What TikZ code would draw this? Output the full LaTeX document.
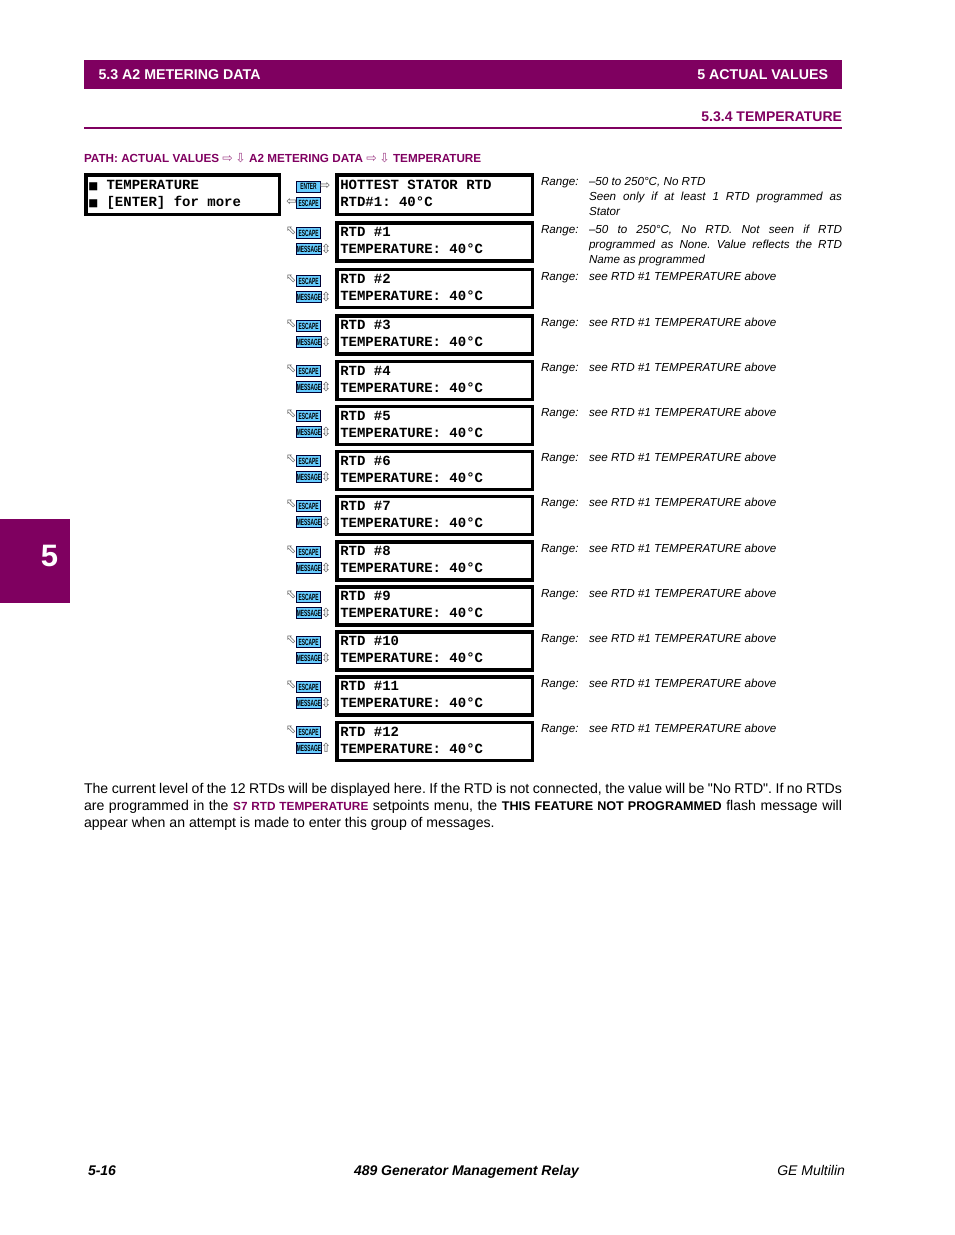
\documentclass[tikz,border=0pt]{standalone}
\usepackage{fontspec}
\setmainfont{Liberation Sans}
\setmonofont{Liberation Mono}
\newfontfamily\keyfont[FakeStretch=0.54]{Liberation Sans}
\newfontfamily\arrowfont{DejaVu Sans}
\newfontfamily\plainfont{Liberation Sans}
\definecolor{gepurple}{HTML}{7F0060}
\definecolor{keyblue}{HTML}{66CCFF}
\tikzset{
  every node/.style={inner sep=0pt, outer sep=0pt},
  bartext/.style={text=white, font=\fontsize{14.2}{16}\selectfont\bfseries},
  lcd/.style={draw, line width=3.5pt, minimum width=195.5pt, minimum height=38pt, inner xsep=3.5pt, text width=188.5pt, align=flush left, text depth=20pt,
    font=\fontsize{14}{17.3}\selectfont\ttfamily\bfseries},
  keybox/.style={draw=black!80!blue, fill=keyblue, line width=1pt, minimum height=11pt, font=\fontsize{9}{9}\selectfont\keyfont\bfseries},
  esc/.style={keybox, minimum width=23.5pt},
  msg/.style={keybox, minimum width=24.5pt},
  arr/.style={text=black!65, font=\fontsize{12.5}{12.5}\selectfont\arrowfont},
  rangelab/.style={anchor=west, font=\fontsize{11.65}{15}\selectfont\itshape},
  rangeval/.style={anchor=north west, text width=253pt, align=justify, font=\fontsize{11.65}{15}\selectfont\itshape\frenchspacing},
  foot/.style={anchor=base west, font=\fontsize{14}{16}\selectfont\bfseries\itshape}
}
\begin{document}
\begin{tikzpicture}[x=1pt,y=-1pt]
  \useasboundingbox (0,0) rectangle (954,1235);
  % page furniture
  \fill[gepurple] (84,60) rectangle (842,89);
  \fill[gepurple] (0,519) rectangle (70,603);
  \draw[gepurple, line width=1.5pt] (84,128) -- (842,128);
  \node[bartext, anchor=west] (sect) at (98.5,75) {5.3 A2 METERING DATA};
  \node[bartext, anchor=east] (chap) at (828,75) {5 ACTUAL VALUES};
  \node[anchor=east, text=gepurple, font=\fontsize{14}{16}\selectfont\bfseries] (title) at (842,117) {5.3.4 TEMPERATURE};
  \node[text=white, font=\fontsize{31}{33}\selectfont\bfseries] (tabnum) at (49.5,556) {5};
  \node[anchor=west, text=gepurple, font=\fontsize{11.7}{14}\selectfont\bfseries] (path) at (84,158) {PATH: ACTUAL VALUES {\arrowfont\mdseries\fontsize{12.5}{14}\selectfont\color{gepurple!75}⇨\hspace{2.5pt}⇩} A2 METERING DATA {\arrowfont\mdseries\fontsize{12.5}{14}\selectfont\color{gepurple!75}⇨\hspace{2.5pt}⇩} TEMPERATURE};
  % first row
  \node[lcd, minimum width=193.5pt, minimum height=39.5pt, inner xsep=2.5pt, text width=188.5pt] (menu) at (182.5,194.5) {{\arrowfont\fontsize{10.5}{10}\selectfont ■} TEMPERATURE\\{\arrowfont\fontsize{10.5}{10}\selectfont ■} [ENTER] for more};
  \node[esc] (enter) at (308.5,186.5) {ENTER};
  \node[arr] (enterarr) at (325,186) {⇨};
  \node[esc, minimum width=24.5pt] (escape) at (308.5,203) {ESCAPE};
  \node[arr] (escarr) at (291.5,202) {⇦};
  \node[lcd, minimum height=39.5pt] (hot) at (434.5,194.5) {HOTTEST STATOR RTD\\RTD\#1: 40°C};
  \node[rangelab] (lab0) at (541,182.5) {Range:};
  \node[rangeval] (val0) at (589,177) {–50 to 250°C, No RTD\\Seen only if at least 1 RTD programmed as\linebreak Stator};
  % RTD rows
  \node[arr] (up1) at (291,231) {⬁};
  \node[esc] (esc1) at (308.7,233) {ESCAPE};
  \node[msg] (msg1) at (309,249) {MESSAGE};
  \node[arr] (ud1) at (326,249) {⇳};
  \node[lcd] (rtd1) at (434.5,242) {RTD \#1\\TEMPERATURE: 40°C};
  \node[rangelab] (lab1) at (541,230.5) {Range:};
  \node[rangeval] (val1) at (589,225) {–50 to 250°C, No RTD. Not seen if RTD\linebreak programmed as None. Value reflects the RTD\linebreak Name as programmed};
  \node[arr] (up2) at (291,279) {⬁};
  \node[esc] (esc2) at (308.7,281) {ESCAPE};
  \node[msg] (msg2) at (309,297) {MESSAGE};
  \node[arr] (ud2) at (326,297) {⇳};
  \node[lcd] (rtd2) at (434.5,288.5) {RTD \#2\\TEMPERATURE: 40°C};
  \node[rangelab] (lab2) at (541,277.5) {Range:};
  \node[rangeval] (val2) at (589,272) {see RTD \#1 TEMPERATURE above};
  \node[arr] (up3) at (291,324) {⬁};
  \node[esc] (esc3) at (308.7,326) {ESCAPE};
  \node[msg] (msg3) at (309,342) {MESSAGE};
  \node[arr] (ud3) at (326,342) {⇳};
  \node[lcd] (rtd3) at (434.5,335) {RTD \#3\\TEMPERATURE: 40°C};
  \node[rangelab] (lab3) at (541,323.5) {Range:};
  \node[rangeval] (val3) at (589,318) {see RTD \#1 TEMPERATURE above};
  \node[arr] (up4) at (291,369) {⬁};
  \node[esc] (esc4) at (308.7,371) {ESCAPE};
  \node[msg] (msg4) at (309,387) {MESSAGE};
  \node[arr] (ud4) at (326,387) {⇳};
  \node[lcd] (rtd4) at (434.5,380.5) {RTD \#4\\TEMPERATURE: 40°C};
  \node[rangelab] (lab4) at (541,368.5) {Range:};
  \node[rangeval] (val4) at (589,363) {see RTD \#1 TEMPERATURE above};
  \node[arr] (up5) at (291,414) {⬁};
  \node[esc] (esc5) at (308.7,416) {ESCAPE};
  \node[msg] (msg5) at (309,432) {MESSAGE};
  \node[arr] (ud5) at (326,432) {⇳};
  \node[lcd] (rtd5) at (434.5,425.5) {RTD \#5\\TEMPERATURE: 40°C};
  \node[rangelab] (lab5) at (541,413.5) {Range:};
  \node[rangeval] (val5) at (589,408) {see RTD \#1 TEMPERATURE above};
  \node[arr] (up6) at (291,459) {⬁};
  \node[esc] (esc6) at (308.7,461) {ESCAPE};
  \node[msg] (msg6) at (309,477) {MESSAGE};
  \node[arr] (ud6) at (326,477) {⇳};
  \node[lcd] (rtd6) at (434.5,470.5) {RTD \#6\\TEMPERATURE: 40°C};
  \node[rangelab] (lab6) at (541,458.5) {Range:};
  \node[rangeval] (val6) at (589,453) {see RTD \#1 TEMPERATURE above};
  \node[arr] (up7) at (291,504) {⬁};
  \node[esc] (esc7) at (308.7,506) {ESCAPE};
  \node[msg] (msg7) at (309,522) {MESSAGE};
  \node[arr] (ud7) at (326,522) {⇳};
  \node[lcd] (rtd7) at (434.5,515.5) {RTD \#7\\TEMPERATURE: 40°C};
  \node[rangelab] (lab7) at (541,503.5) {Range:};
  \node[rangeval] (val7) at (589,498) {see RTD \#1 TEMPERATURE above};
  \node[arr] (up8) at (291,550) {⬁};
  \node[esc] (esc8) at (308.7,552) {ESCAPE};
  \node[msg] (msg8) at (309,568) {MESSAGE};
  \node[arr] (ud8) at (326,568) {⇳};
  \node[lcd] (rtd8) at (434.5,561) {RTD \#8\\TEMPERATURE: 40°C};
  \node[rangelab] (lab8) at (541,549.5) {Range:};
  \node[rangeval] (val8) at (589,544) {see RTD \#1 TEMPERATURE above};
  \node[arr] (up9) at (291,595) {⬁};
  \node[esc] (esc9) at (308.7,597) {ESCAPE};
  \node[msg] (msg9) at (309,613) {MESSAGE};
  \node[arr] (ud9) at (326,613) {⇳};
  \node[lcd] (rtd9) at (434.5,606) {RTD \#9\\TEMPERATURE: 40°C};
  \node[rangelab] (lab9) at (541,594.5) {Range:};
  \node[rangeval] (val9) at (589,589) {see RTD \#1 TEMPERATURE above};
  \node[arr] (up10) at (291,640) {⬁};
  \node[esc] (esc10) at (308.7,642) {ESCAPE};
  \node[msg] (msg10) at (309,658) {MESSAGE};
  \node[arr] (ud10) at (326,658) {⇳};
  \node[lcd] (rtd10) at (434.5,651) {RTD \#10\\TEMPERATURE: 40°C};
  \node[rangelab] (lab10) at (541,639.5) {Range:};
  \node[rangeval] (val10) at (589,634) {see RTD \#1 TEMPERATURE above};
  \node[arr] (up11) at (291,685) {⬁};
  \node[esc] (esc11) at (308.7,687) {ESCAPE};
  \node[msg] (msg11) at (309,703) {MESSAGE};
  \node[arr] (ud11) at (326,703) {⇳};
  \node[lcd] (rtd11) at (434.5,696) {RTD \#11\\TEMPERATURE: 40°C};
  \node[rangelab] (lab11) at (541,684.5) {Range:};
  \node[rangeval] (val11) at (589,679) {see RTD \#1 TEMPERATURE above};
  \node[arr] (up12) at (291,730) {⬁};
  \node[esc] (esc12) at (308.7,732) {ESCAPE};
  \node[msg] (msg12) at (309,748) {MESSAGE};
  \node[arr] (ud12) at (326,748) {⇧};
  \node[lcd] (rtd12) at (434.5,741.5) {RTD \#12\\TEMPERATURE: 40°C};
  \node[rangelab] (lab12) at (541,729.5) {Range:};
  \node[rangeval] (val12) at (589,724) {see RTD \#1 TEMPERATURE above};
  % text below
  \node[anchor=north west, text width=758pt, align=justify, font=\fontsize{14.1}{17}\selectfont\frenchspacing] (para) at (84,783)
    {The current level of the 12 RTDs will be displayed here. If the RTD is not connected, the value will be {\plainfont"No RTD"}. If no RTDs\linebreak are programmed in the {\fontsize{11.8}{17}\selectfont\bfseries\color{gepurple}S7 RTD TEMPERATURE} setpoints menu, the {\fontsize{12.6}{17}\selectfont\bfseries THIS FEATURE NOT PROGRAMMED} flash message will\linebreak appear when an attempt is made to enter this group of messages.};
  \node[foot] (page) at (88,1175) {5-16};
  \node[foot] (relay) at (354,1175) {489 Generator Management Relay};
  \node[foot, anchor=base east, font=\fontsize{14}{16}\selectfont\itshape] (ge) at (845,1175) {GE Multilin};
\end{tikzpicture}
\end{document}
